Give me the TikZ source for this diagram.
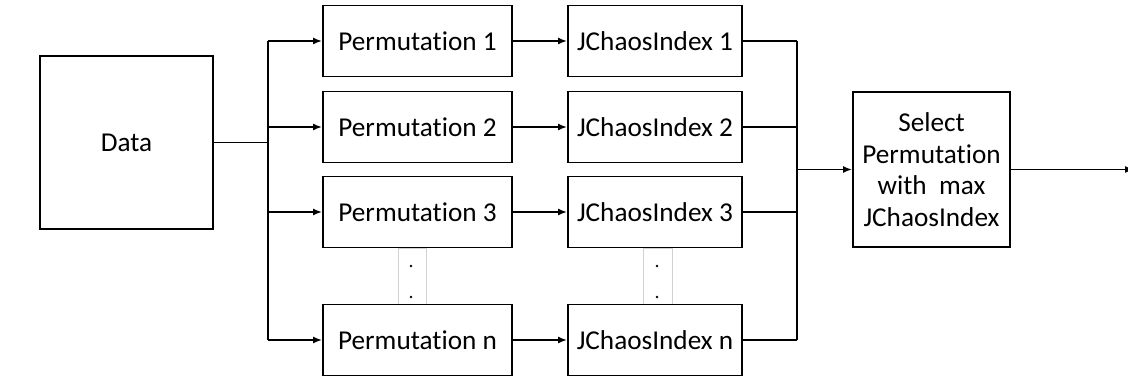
\documentclass[tikz,border=0pt]{standalone}
\usepackage{fontspec}
\setmainfont[Ligatures=NoCommon]{Carlito}
\usetikzlibrary{arrows.meta}

\tikzset{
  box/.style={draw, line width=1.1pt, fill=white, inner sep=0pt, align=center},
  permbox/.style={box, minimum width=3.78cm, minimum height=1.42cm},
  indexbox/.style={box, minimum width=3.48cm, minimum height=1.42cm},
  dotsbox/.style={draw=gray!35, line width=0.5pt, minimum width=0.57cm, minimum height=1.12cm, inner sep=0pt},
  link/.style={line width=0.9pt},
  arrow/.style={link, -{Latex[length=1.8mm,width=1.4mm]}}
}

\begin{document}
\begin{tikzpicture}[x=0.02cm, y=-0.02cm, font=\fontsize{15.5}{18}\selectfont]
  \useasboundingbox (0,0) rectangle (1128,377);

  % Vertical dots between row 3 and row n
  \node[dotsbox] (dotsL) at (412.5,276) {};
  \node[dotsbox] (dotsR) at (658,276) {};
  \foreach \x in {411,657} {
    \fill (\x,266) circle (1.3);
    \fill (\x,297) circle (1.3);
  }

  % Input
  \node[box, minimum width=3.46cm, minimum height=3.46cm] (data) at (126.5,142.5) {Data};
  \coordinate (split) at (268,142.5);

  % Permutations and their indices
  \foreach \i/\y in {1/41, 2/127, 3/212, n/340} {
    \node[permbox] (perm\i) at (417.5,\y) {Permutation \i};
    \node[indexbox] (jci\i) at (655,\y) {JChaosIndex \i};
    \draw[arrow] (perm\i) -- (jci\i);
  }

  % Selection
  \node[box, minimum width=3.14cm, minimum height=3.1cm] (select) at (931.5,169.5)
    {Select\\Permutation\\with~ max\\JChaosIndex};
  \coordinate (merge) at (797,169.5);
  \coordinate (out) at (1134,169.5);

  % Fan out
  \draw[link] (data) -- (split);
  \draw[link] (split |- perm1.west) -- (split |- permn.west);
  \foreach \i in {1,2,3,n}
    \draw[arrow] (split |- perm\i.west) -- (perm\i.west);

  % Fan in
  \foreach \i in {1,2,3,n}
    \draw[link] (jci\i.east) -- (merge |- jci\i.east);
  \draw[link] (merge |- jci1.east) -- (merge |- jcin.east);
  \draw[arrow] (merge) -- (select.west);
  \draw[arrow] (select.east) -- (out);
\end{tikzpicture}
\end{document}
